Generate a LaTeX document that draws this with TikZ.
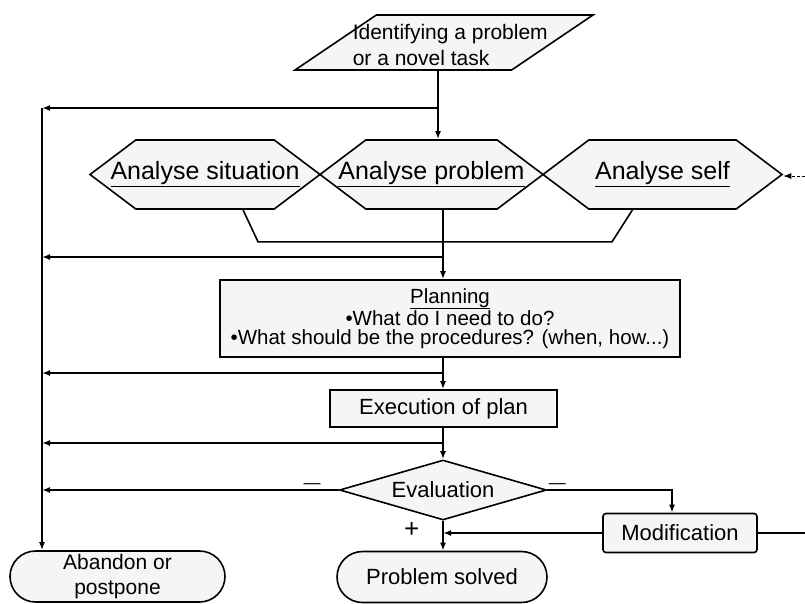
\documentclass[tikz,border=0pt]{standalone}
\usepackage{fontspec}
\setmainfont{Liberation Sans}
\usetikzlibrary{shapes.geometric,shapes.symbols,shapes.misc,arrows.meta}

\begin{document}
\begin{tikzpicture}[x=1pt, y=-1pt, line width=1.6pt, >={Latex[length=8pt,width=6pt]},
    box/.style = {draw, fill=black!4, inner sep=2pt, font=\fontsize{22}{25}\selectfont},
    para/.style = {box, trapezium, trapezium left angle=59, trapezium right angle=121, trapezium stretches=true, minimum width=298pt, minimum height=55pt},
    hexa/.style = {box, signal, signal to=east and west, signal pointer angle=74, inner xsep=-45pt, minimum height=69pt, font=\fontsize{25}{30}\selectfont},
    decision/.style = {box, diamond, aspect=3.4, inner sep=0pt, minimum width=207pt, minimum height=60pt},
    terminal/.style = {box, rounded rectangle, align=center, minimum height=51pt},
    sign/.style = {inner sep=1pt, font=\fontsize{17}{20}\selectfont}]
    \useasboundingbox (0,0) rectangle (805,603);

    \node[para] (ident) at (444,42.5) {};
    \node[align=left, inner sep=0pt, anchor=west, font=\fontsize{21}{26}\selectfont] (identtext) at (352,45) {Identifying a problem\\or a novel task};

    \node[hexa, minimum width=230pt] (situation) at (205,174.5) {\underline{Analyse situation}};
    \node[hexa, minimum width=223pt] (problem) at (431.5,174.5) {\underline{Analyse problem}};
    \node[hexa, minimum width=239pt] (self) at (662.5,174.5) {\underline{Analyse self}};

    \node[box, align=center, minimum width=460pt, minimum height=77pt, font=\fontsize{20.5}{19.5}\selectfont] (planning) at (450,318.5) {\underline{Planning}\\\textbullet What do I need to do?\\\textbullet What should be the procedures? (when, how...)};
    \node[box, minimum width=227pt, minimum height=37pt] (execution) at (443.5,408.5) {Execution of plan};
    \node[decision] (evaluation) at (443,490) {Evaluation};
    \node[box, rounded corners=3pt, minimum width=154pt, minimum height=39pt] (modification) at (680,533) {Modification};
    \node[terminal, minimum width=219pt, font=\fontsize{21}{25}\selectfont] (abandon) at (117.5,576.5) {Abandon or\\postpone};
    \node[terminal, minimum width=214pt] (solved) at (442,577) {Problem solved};

    \coordinate (sq) at (438,108);
    \coordinate (lft) at (42,108);
    \coordinate (sp) at (443,0);
    \coordinate (b2) at (443,257);
    \coordinate (b3) at (443,373);
    \coordinate (b4) at (443,443);
    \coordinate (selfin) at (805,176);
    \coordinate (rgt) at (805,533);

    \draw[->] (ident.south -| sq) -- (problem.north -| sq);
    \draw[->] (sq) -- (lft);
    \draw[->] (lft) -- (lft |- abandon.north);
    \draw[->, densely dashed, line width=0.8pt] (selfin) -- (selfin -| self.east);

    \draw ([xshift=38pt]situation.south) -- ++(15,32) -- ++(354,0) -- ([xshift=-30pt]self.south);
    \draw[->] (problem.south -| sp) -- (planning.north -| sp);
    \draw[->] (b2) -- (b2 -| lft);
    \draw[->] (planning.south -| sp) -- (execution.north -| sp);
    \draw[->] (b3) -- (b3 -| lft);
    \draw[->] (execution.south -| sp) -- (evaluation.north);
    \draw[->] (b4) -- (b4 -| lft);

    \draw[->] (evaluation.west) -- node[sign, pos=0.09, above] {\textemdash} (evaluation.west -| lft);
    \draw[->] (evaluation.east) -| node[sign, pos=0.04, above] {\textemdash} ([xshift=-8pt]modification.north);
    \draw[->] (evaluation.south) -- node[sign, pos=0.32, left=22pt, font=\fontsize{26}{28}\selectfont] {+} (evaluation.south |- solved.north);
    \draw[->] (modification.west) -- (modification.west -| sp);
    \draw (modification.east) -- (rgt);
\end{tikzpicture}
\end{document}
